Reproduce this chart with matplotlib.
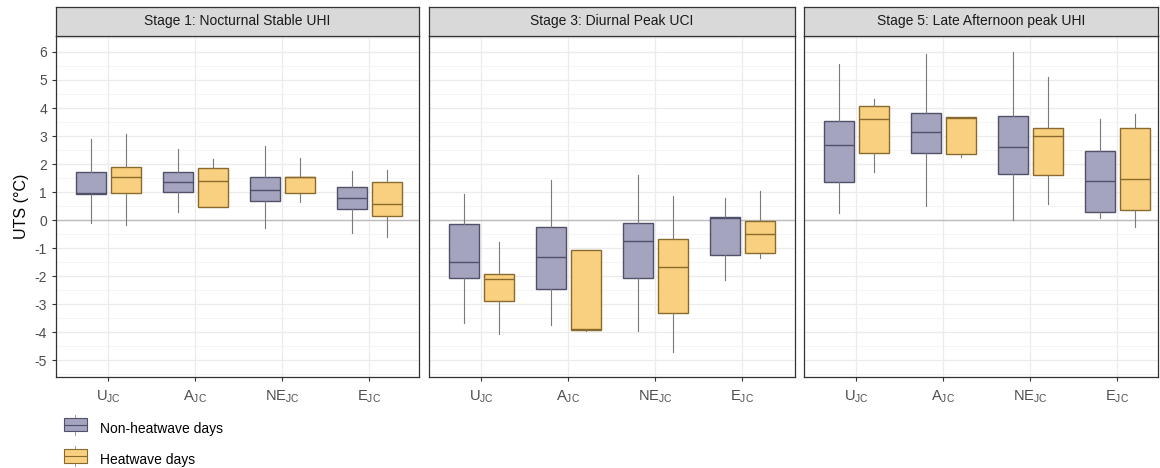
import numpy as np
import matplotlib
matplotlib.use('Agg')
import matplotlib.pyplot as plt
from matplotlib.patches import Patch, Rectangle
from matplotlib.lines import Line2D
from matplotlib.legend_handler import HandlerBase
from matplotlib.ticker import MultipleLocator

plt.rcParams['font.family'] = ['Liberation Sans', 'DejaVu Sans']

stages = ['Stage 1: Nocturnal Stable UHI', 'Stage 3: Diurnal Peak UCI',
          'Stage 5: Late Afternoon peak UHI']
sites = ['U', 'A', 'NE', 'E']
groups = ['Non-heatwave days', 'Heatwave days']

# rows = stages, columns = sites (U, A, NE, E)
non_lo = [[-0.11, 0.30, -0.30, -0.47],
          [-3.68, -3.75, -3.97, -2.15],
          [0.24, 0.50, 0.00, 0.06]]
non_q1 = [[0.93, 1.00, 0.68, 0.40],
          [-2.08, -2.45, -2.08, -1.25],
          [1.35, 2.40, 1.65, 0.28]]
non_med = [[0.95, 1.35, 1.07, 0.80],
           [-1.50, -1.30, -0.73, 0.08],
           [2.67, 3.13, 2.62, 1.38]]
non_q3 = [[1.73, 1.72, 1.55, 1.18],
          [-0.13, -0.25, -0.10, 0.10],
          [3.55, 3.83, 3.70, 2.45]]
non_hi = [[2.89, 2.55, 2.64, 1.75],
          [0.92, 1.43, 1.60, 0.78],
          [5.58, 5.92, 6.00, 3.62]]

heat_lo = [[-0.18, 0.45, 0.65, -0.62],
           [-4.05, -3.96, -4.70, -1.37],
           [1.73, 2.25, 0.57, -0.24]]
heat_q1 = [[0.98, 0.45, 0.96, 0.13],
           [-2.90, -3.92, -3.30, -1.19],
           [2.38, 2.35, 1.60, 0.37]]
heat_med = [[1.55, 1.40, 1.52, 0.57],
            [-2.12, -3.88, -1.67, -0.50],
            [3.60, 3.64, 3.00, 1.48]]
heat_q3 = [[1.90, 1.87, 1.55, 1.35],
           [-1.93, -1.05, -0.68, -0.04],
           [4.07, 3.67, 3.27, 3.27]]
heat_hi = [[3.07, 2.18, 2.20, 1.78],
           [-0.78, -1.05, 0.85, 1.04],
           [4.32, 3.67, 5.10, 3.78]]

fills = ['#a4a4bf', '#f9d07f']
edges = ['#50506a', '#8a6a2c']


class BoxKey(HandlerBase):
    # legend key that looks like a small boxplot
    def create_artists(self, legend, orig, xd, yd, w, h, fontsize, trans):
        fc = orig.get_facecolor()
        ec = orig.get_edgecolor()
        whisk = Line2D([xd + w / 2, xd + w / 2], [yd - 0.25 * h, yd + 1.25 * h],
                       color='#9a9a9a', lw=0.7, transform=trans)
        box = Rectangle((xd, yd), w, h, facecolor=fc, edgecolor=ec, lw=0.8,
                        transform=trans)
        med = Line2D([xd, xd + w], [yd + h / 2, yd + h / 2], color=ec, lw=0.8,
                     transform=trans)
        return [whisk, box, med]


W, H = 1160, 468
fig = plt.figure(figsize=(W / 100, H / 100), dpi=100)

panels = [(56, 419), (429, 795), (804, 1158)]
top, bottom = 36, 377
strip_top = 7
unit = 87.0

pos = np.arange(1, len(sites) + 1)

for k, (x0, x1) in enumerate(panels):
    ax = fig.add_axes([x0 / W, 1 - bottom / H, (x1 - x0) / W, (bottom - top) / H])
    ax.set_xlim(0.4, 0.4 + (x1 - x0) / unit)
    ax.set_ylim(-5.6, 6.57)
    ax.yaxis.set_major_locator(MultipleLocator(1))
    ax.yaxis.set_minor_locator(MultipleLocator(0.5))
    ax.grid(which='major', color='#ebebeb', lw=0.9)
    ax.grid(which='minor', axis='y', color='#f3f3f3', lw=0.6)
    ax.set_axisbelow(True)
    ax.axhline(0, color='#bdbdbd', lw=1.0, zorder=1)

    sets = [(non_lo, non_q1, non_med, non_q3, non_hi),
            (heat_lo, heat_q1, heat_med, heat_q3, heat_hi)]
    for g, (lo, q1, med, q3, hi) in enumerate(sets):
        stats = []
        for j in range(len(sites)):
            stats.append({'whislo': lo[k][j], 'q1': q1[k][j], 'med': med[k][j],
                          'q3': q3[k][j], 'whishi': hi[k][j], 'fliers': []})
        off = -0.2 if g == 0 else 0.2
        ax.bxp(stats, positions=pos + off, widths=0.345, patch_artist=True,
               showcaps=False, showfliers=False, manage_ticks=False,
               boxprops=dict(facecolor=fills[g], edgecolor=edges[g], lw=1.0),
               medianprops=dict(color=edges[g], lw=1.0),
               whiskerprops=dict(color='#7a7a7a', lw=0.8))

    ax.set_xticks(pos)
    ax.set_xticklabels([r'$\mathregular{%s_{JC}}$' % s for s in sites],
                       fontsize=10.5, color='#4d4d4d')
    ax.set_yticks(np.arange(-5, 7))
    if k == 0:
        ax.set_yticklabels([str(v) for v in range(-5, 7)], fontsize=10, color='#4d4d4d')
        ax.set_ylabel('UTS (°C)', fontsize=11.5, labelpad=4)
    else:
        ax.tick_params(axis='y', which='both', left=False, labelleft=False)
    ax.tick_params(axis='both', which='major', length=3, color='#333333', width=0.8)
    ax.tick_params(axis='x', pad=5)
    ax.tick_params(axis='y', which='minor', left=False)
    for sp in ax.spines.values():
        sp.set_color('#333333')
        sp.set_linewidth(0.9)

    sax = fig.add_axes([x0 / W, 1 - top / H, (x1 - x0) / W, (top - strip_top) / H])
    sax.set_facecolor('#d9d9d9')
    sax.set_xticks([])
    sax.set_yticks([])
    for sp in sax.spines.values():
        sp.set_color('#333333')
        sp.set_linewidth(0.9)
    sax.text(0.5, 0.5, stages[k], ha='center', va='center', fontsize=10,
             color='#1a1a1a', transform=sax.transAxes)

handles = [Patch(facecolor=fills[g], edgecolor=edges[g]) for g in range(2)]
fig.legend(handles, groups, loc='upper left', bbox_to_anchor=(64 / W, 1 - 422 / H),
           frameon=False, fontsize=10, handlelength=1.65, handleheight=1.1,
           labelspacing=1.2, handletextpad=0.95, borderpad=0, borderaxespad=0,
           handler_map={Patch: BoxKey()})

fig.savefig('out.png', dpi=100)
